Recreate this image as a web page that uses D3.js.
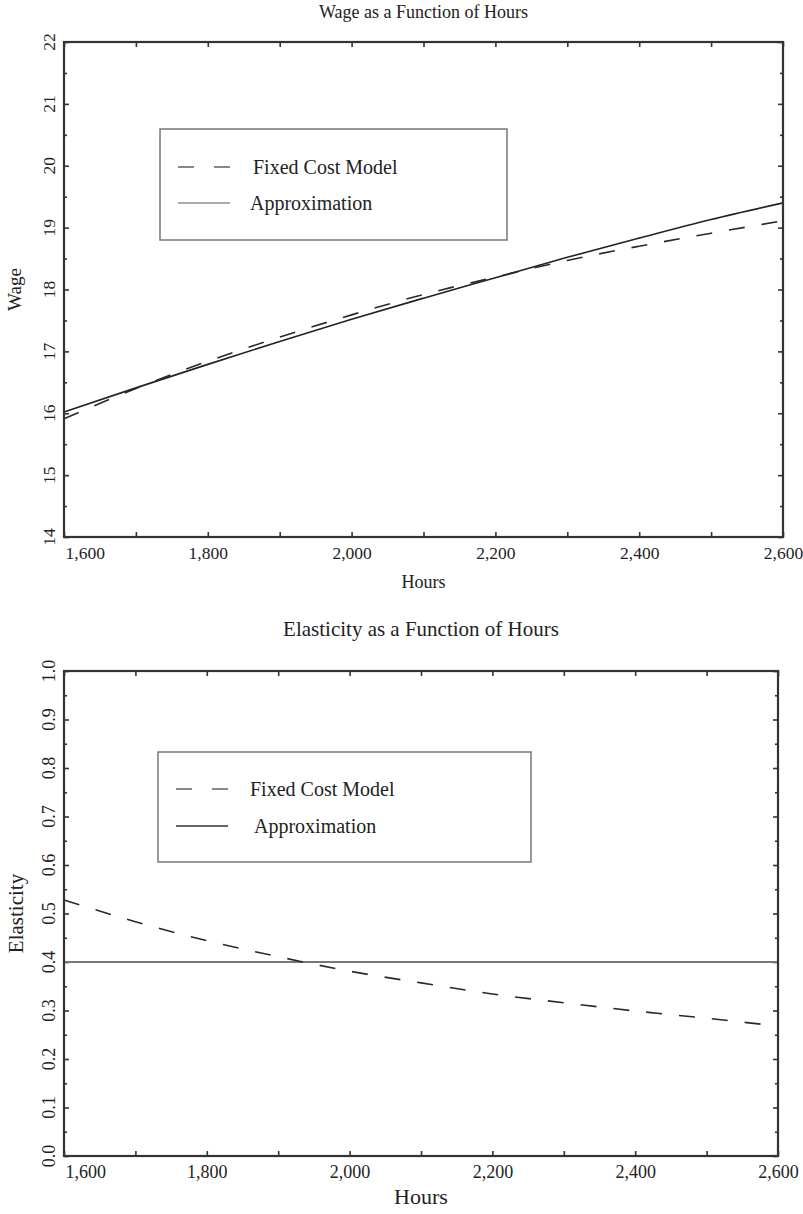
<!DOCTYPE html>
<html>
<head>
<meta charset="utf-8">
<script src="https://cdn.jsdelivr.net/npm/d3@7"></script>
<style>
  body { margin: 0; background: #fff; }
  svg text { font-family: "Liberation Serif", "Times New Roman", serif; fill: #222; }
</style>
</head>
<body>
<svg id="chart"></svg>
<script>
// Hours on the x axis (both panels)
const hours = [1600, 1700, 1800, 1900, 2000, 2100, 2200, 2300, 2400, 2500, 2600];
const hourTicks = [1600, 1700, 1800, 1900, 2000, 2100, 2200, 2300, 2400, 2500, 2600];
const hourLabels = [1600, 1800, 2000, 2200, 2400, 2600];

// Top panel: wage
const wageFixedCost = [15.91, 16.40, 16.84, 17.23, 17.59, 17.92, 18.20, 18.47, 18.70, 18.91, 19.11];
const wageApprox = [16.02, 16.41, 16.79, 17.16, 17.52, 17.86, 18.19, 18.52, 18.83, 19.13, 19.40];
const wageTicks = [14, 14.5, 15, 15.5, 16, 16.5, 17, 17.5, 18, 18.5, 19, 19.5, 20, 20.5, 21, 21.5, 22];
const wageLabels = [14, 15, 16, 17, 18, 19, 20, 21, 22];

// Bottom panel: elasticity
const elasticityFixedCost = [0.528, 0.483, 0.444, 0.411, 0.381, 0.357, 0.334, 0.316, 0.299, 0.284, 0.268];
const elasticityApprox = [0.40, 0.40, 0.40, 0.40, 0.40, 0.40, 0.40, 0.40, 0.40, 0.40, 0.40];
const elasticityTicks = [0, 0.05, 0.1, 0.15, 0.2, 0.25, 0.3, 0.35, 0.4, 0.45, 0.5, 0.55, 0.6, 0.65, 0.7, 0.75, 0.8, 0.85, 0.9, 0.95, 1.0];
const elasticityLabels = [0, 0.1, 0.2, 0.3, 0.4, 0.5, 0.6, 0.7, 0.8, 0.9, 1.0];

const legendNames = ["Fixed Cost Model", "Approximation"];

let width = 803;
let height = 1214;

let svg = d3.select("#chart")
    .attr("width", width)
    .attr("height", height);

function drawPanel(p) {
    let g = svg.append("g");

    let xScale = d3.scaleLinear()
        .domain([1600, 2600])
        .range([p.left, p.right]);

    let yScale = d3.scaleLinear()
        .domain(p.yDomain)
        .range([p.bottom, p.top]);

    // Title
    g.append("text")
        .attr("x", (p.left + p.right) / 2)
        .attr("y", p.titleY)
        .attr("text-anchor", "middle")
        .style("font-size", p.titleSize + "px")
        .text(p.title);

    // Ticks on all four sides, pointing in
    let tickStyle = sel => {
        sel.select(".domain").remove();
        sel.selectAll(".tick line").attr("stroke", "#333").attr("stroke-width", 1.6);
    };

    let xBottom = g.append("g")
        .attr("transform", `translate(0, ${p.bottom})`)
        .call(d3.axisBottom(xScale)
            .tickValues(hourTicks)
            .tickSize(-5)
            .tickPadding(p.xLabelPad)
            .tickFormat(d => hourLabels.includes(d) ? d3.format(",")(d) : ""))
        .call(tickStyle);
    xBottom.selectAll("text")
        .style("font-size", p.tickSize + "px")
        .style("font-family", "Liberation Serif");
    // first label sits inside the frame
    xBottom.selectAll("text").filter(d => d === 1600)
        .attr("text-anchor", "start")
        .attr("dx", 1);

    g.append("g")
        .attr("transform", `translate(0, ${p.top})`)
        .call(d3.axisTop(xScale).tickValues(hourTicks).tickSize(-5).tickFormat(""))
        .call(tickStyle);

    let yAxis = d3.axisLeft(yScale)
        .tickValues(p.yTicks)
        .tickFormat("")
        .tickSizeInner(-3);
    g.append("g")
        .attr("transform", `translate(${p.left}, 0)`)
        .call(yAxis)
        .call(tickStyle)
        .selectAll(".tick line")
        .attr("x2", d => p.yLabels.some(v => Math.abs(v - d) < 1e-9) ? 5 : 3);

    g.append("g")
        .attr("transform", `translate(${p.right}, 0)`)
        .call(d3.axisRight(yScale).tickValues(p.yTicks).tickFormat("").tickSizeInner(-3))
        .call(tickStyle)
        .selectAll(".tick line")
        .attr("x2", d => p.yLabels.some(v => Math.abs(v - d) < 1e-9) ? -5 : -3);

    // Rotated y tick labels
    g.selectAll(".ylab")
        .data(p.yLabels)
        .enter().append("text")
        .attr("class", "ylab")
        .attr("transform", d => `translate(${p.yLabelX}, ${yScale(d)}) rotate(-90)`)
        .attr("text-anchor", "middle")
        .style("font-size", p.tickSize + "px")
        .text(p.yFormat);

    // Axis titles
    g.append("text")
        .attr("x", (p.left + p.right) / 2)
        .attr("y", p.xTitleY)
        .attr("text-anchor", "middle")
        .style("font-size", p.xTitleSize + "px")
        .text("Hours");

    g.append("text")
        .attr("transform", `translate(${p.yTitleX}, ${(p.top + p.bottom) / 2}) rotate(-90)`)
        .attr("text-anchor", "middle")
        .style("font-size", p.yTitleSize + "px")
        .text(p.yTitle);

    // Lines
    let line = d3.line()
        .x((d, i) => xScale(hours[i]))
        .y(d => yScale(d))
        .curve(d3.curveMonotoneX);

    g.append("path")
        .datum(p.approx)
        .attr("fill", "none")
        .attr("stroke", p.approxColor)
        .attr("stroke-width", p.approxWidth)
        .attr("d", line);

    g.append("path")
        .datum(p.fixed)
        .attr("fill", "none")
        .attr("stroke", "#2a2a2a")
        .attr("stroke-width", 1.6)
        .attr("stroke-dasharray", "16,17")
        .attr("d", line);

    // Frame
    g.append("rect")
        .attr("x", p.left)
        .attr("y", p.top)
        .attr("width", p.right - p.left)
        .attr("height", p.bottom - p.top)
        .attr("fill", "none")
        .attr("stroke", "#333")
        .attr("stroke-width", 2.2);

    // Legend
    let lg = p.legend;
    g.append("rect")
        .attr("x", lg.x)
        .attr("y", lg.y)
        .attr("width", lg.w)
        .attr("height", lg.h)
        .attr("fill", "#fff")
        .attr("stroke", "#777")
        .attr("stroke-width", 1.5);

    legendNames.forEach((name, i) => {
        let ly = lg.rowY[i];
        g.append("line")
            .attr("x1", lg.x + 18)
            .attr("x2", lg.x + 70)
            .attr("y1", ly)
            .attr("y2", ly)
            .attr("stroke", i === 0 ? lg.dashColor : lg.solidColor)
            .attr("stroke-width", 2)
            .attr("stroke-dasharray", i === 0 ? "16,20" : null);
        g.append("text")
            .attr("x", lg.textX[i])
            .attr("y", ly + 7)
            .style("font-size", "20px")
            .text(name);
    });
}

drawPanel({
    title: "Wage as a Function of Hours",
    titleY: 18, titleSize: 18,
    left: 64, right: 783, top: 42, bottom: 537,
    yDomain: [14, 22],
    yTicks: wageTicks, yLabels: wageLabels,
    yFormat: d => d3.format("d")(d),
    yLabelX: 55, tickSize: 17.5,
    xLabelPad: 10,
    xTitleY: 588, xTitleSize: 18,
    yTitle: "Wage", yTitleX: 21, yTitleSize: 19,
    fixed: wageFixedCost, approx: wageApprox,
    approxColor: "#222", approxWidth: 1.6,
    legend: { x: 160, y: 129, w: 347, h: 111, rowY: [167, 203], textX: [253, 250],
              dashColor: "#888", solidColor: "#aaa" }
});

drawPanel({
    title: "Elasticity as a Function of Hours",
    titleY: 636, titleSize: 21,
    left: 64, right: 778, top: 671, bottom: 1156,
    yDomain: [0, 1],
    yTicks: elasticityTicks, yLabels: elasticityLabels,
    yFormat: d => d3.format(".1f")(d),
    yLabelX: 55, tickSize: 18,
    xLabelPad: 9,
    xTitleY: 1204, xTitleSize: 22,
    yTitle: "Elasticity", yTitleX: 23, yTitleSize: 21,
    fixed: elasticityFixedCost, approx: elasticityApprox,
    approxColor: "#777", approxWidth: 2,
    legend: { x: 158, y: 752, w: 373, h: 110, rowY: [789, 826], textX: [250, 254],
              dashColor: "#888", solidColor: "#666" }
});
</script>
</body>
</html>
